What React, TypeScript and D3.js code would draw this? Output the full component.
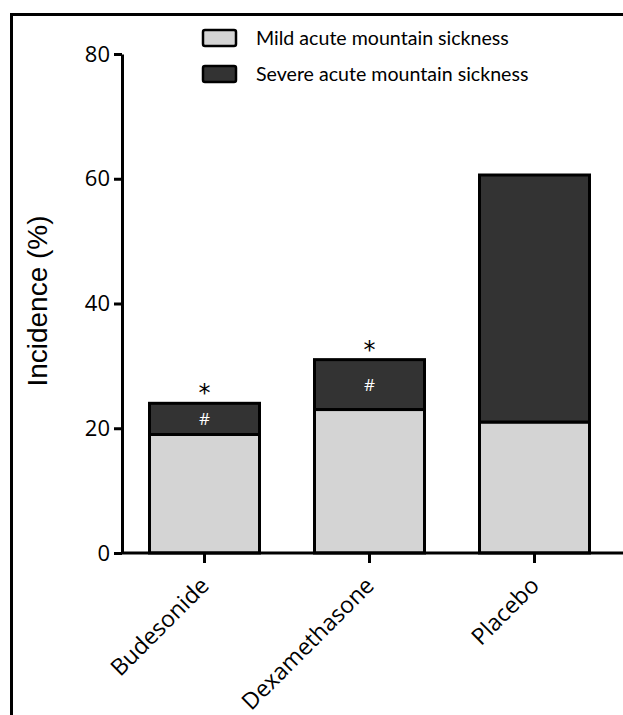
import React, { useEffect, useRef } from "react";
import * as d3 from "d3";

// data (incidence, %)
const groups = ["Budesonide", "Dexamethasone", "Placebo"];
const mildValues = [19, 23, 21];
const severeValues = [5, 8, 39.6];
const starMarks = ["*", "*", ""];
const hashMarks = ["#", "#", ""];
const yTicks = [0, 20, 40, 60, 80];
const seriesNames = ["Mild acute mountain sickness", "Severe acute mountain sickness"];
const seriesColors = ["#d4d4d4", "#333333"];

const W = 623;
const H = 715;

export default function App() {
  const ref = useRef<SVGSVGElement>(null);

  useEffect(() => {
    const svg = d3.select(ref.current);
    svg.selectAll("*").remove();

    const rows = groups.map((g, i) => ({ group: g, mild: mildValues[i], severe: severeValues[i] }));
    const stacked = d3.stack<any>().keys(["mild", "severe"])(rows);

    const x = d3.scaleBand().domain(groups).range([122, 617]).paddingInner(1 / 3).paddingOuter(1 / 6);
    const y = d3.scaleLinear().domain([0, 80]).range([553, 54]);

    // frame
    svg.append("rect")
      .attr("x", 11.5).attr("y", 14.5)
      .attr("width", 800).attr("height", 900)
      .attr("fill", "none").attr("stroke", "#000").attr("stroke-width", 3);

    // bars
    const layer = svg.selectAll("g.layer").data(stacked).enter().append("g")
      .attr("class", "layer")
      .attr("fill", (d, i) => seriesColors[i]);

    layer.selectAll("rect").data(d => d).enter().append("rect")
      .attr("x", d => x(d.data.group)!)
      .attr("y", d => y(d[1]))
      .attr("width", x.bandwidth())
      .attr("height", d => y(d[0]) - y(d[1]))
      .attr("stroke", "#000")
      .attr("stroke-width", 3);

    // significance marks
    const top = stacked[1];
    svg.selectAll("text.star").data(top).enter().append("text")
      .attr("x", d => x(d.data.group)! + x.bandwidth() / 2)
      .attr("y", d => y(d[1]) - 2)
      .attr("text-anchor", "middle")
      .style("font-family", "DejaVu Sans, sans-serif")
      .style("font-size", "24px")
      .text((d, i) => starMarks[i]);

    svg.selectAll("text.hash").data(top).enter().append("text")
      .attr("x", d => x(d.data.group)! + x.bandwidth() / 2)
      .attr("y", d => (y(d[0]) + y(d[1])) / 2 + 6)
      .attr("text-anchor", "middle")
      .attr("fill", "#fff")
      .style("font-family", "Open Sans, sans-serif")
      .style("font-size", "17px")
      .text((d, i) => hashMarks[i]);

    // y axis
    const yAxis = svg.append("g")
      .attr("transform", "translate(122,0)")
      .call(d3.axisLeft(y).tickValues(yTicks).tickSize(8).tickPadding(4).tickSizeOuter(0));
    yAxis.select(".domain").attr("stroke-width", 3);
    yAxis.selectAll(".tick line").attr("stroke-width", 3);
    yAxis.selectAll("text")
      .style("font-family", "Open Sans, sans-serif")
      .style("font-size", "22px")
      .attr("fill", "#000");

    // x axis
    const xAxis = svg.append("g")
      .attr("transform", "translate(0,553)")
      .call(d3.axisBottom(x).tickSize(10).tickSizeOuter(0));
    xAxis.select(".domain").attr("d", "M122,0H623").attr("stroke-width", 3);
    xAxis.selectAll(".tick line").attr("stroke-width", 3);
    xAxis.selectAll("text")
      .style("font-family", "Open Sans, sans-serif")
      .style("font-size", "23px")
      .attr("fill", "#000")
      .attr("text-anchor", "end")
      .attr("y", 0).attr("dy", 0)
      .attr("transform", "translate(6,34) rotate(-45)");

    // y title
    svg.append("text")
      .attr("transform", "translate(47,301) rotate(-90)")
      .attr("text-anchor", "middle")
      .style("font-family", "Liberation Sans, Arial, sans-serif")
      .style("font-size", "28px")
      .text("Incidence (%)");

    // legend
    const legend = svg.selectAll("g.leg").data(seriesNames).enter().append("g")
      .attr("transform", (d, i) => `translate(203,${30 + i * 36})`);
    legend.append("rect")
      .attr("width", 33).attr("height", 16).attr("rx", 2)
      .attr("fill", (d, i) => seriesColors[i])
      .attr("stroke", "#000").attr("stroke-width", 2.5);
    legend.append("text")
      .attr("x", 53).attr("y", 15)
      .style("font-family", "Lato, sans-serif")
      .style("font-size", "19.6px")
      .text(d => d);
  }, []);

  return (
    <svg ref={ref} width={W} height={H} style={{ position: "absolute", left: 0, top: 0, background: "#fff" }} />
  );
}
